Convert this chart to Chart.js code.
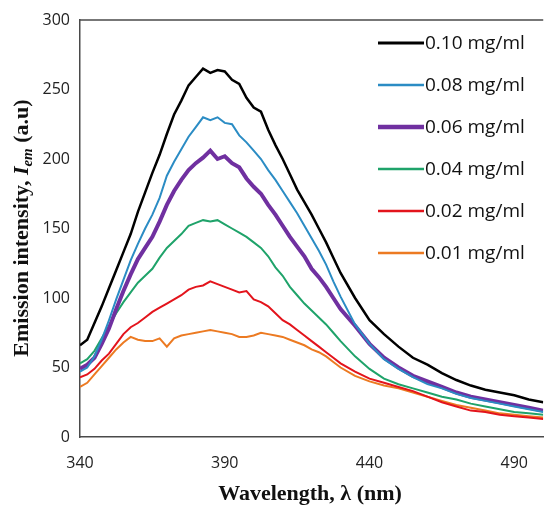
<!DOCTYPE html>
<html>
<head>
<meta charset="utf-8">
<script src="https://cdn.jsdelivr.net/npm/chart.js@4"></script>
<style>
  html, body { margin: 0; padding: 0; background: #fff; }
  #wrap { width: 545px; height: 505px; }
</style>
</head>
<body>
<div id="wrap"><canvas id="emChart" width="545" height="505"></canvas></div>
<script>
// wavelength (nm): every 2.5 nm up to 430, then every 5 nm
const wavelengths = [340,342.5,345,347.5,350,352.5,355,357.5,360,362.5,365,367.5,370,372.5,375,377.5,380,382.5,385,387.5,390,392.5,395,397.5,400,402.5,405,407.5,410,412.5,415,417.5,420,422.5,425,427.5,430,435,440,445,450,455,460,465,470,475,480,485,490,495,500];

const conc010 = [66,70,82,94,107,120,133,146,162,176,190,203,218,232,242,253,259,265,262,264,263,257,254,244,237,234,221,210,200,189,178,169,160,150,140,129,118,100,84,74,65,57,52,46,41,37,34,32,30,27,25];
const conc008 = [47,50,58,70,84,99,113,127,139,150,160,172,188,198,207,216,223,230,228,230,226,225,217,212,206,200,192,185,177,169,161,152,143,134,124,112,101,81,67,56,49,43,38,35,31,28,26,24,22,20,18];
const conc006 = [49,52,57,67,78,92,105,117,128,136,144,155,167,177,185,192,197,201,206,200,202,197,194,186,180,175,167,160,152,144,137,130,121,115,108,100,92,80,67,57,50,44,40,36,32,29,27,25,23,21,19];
const conc004 = [53,56,62,71,80,89,97,104,111,116,121,129,136,141,146,152,154,156,155,156,153,150,147,144,140,136,130,122,116,108,102,96,91,86,81,75,69,58,49,42,38,35,32,29,27,24,22,20,18,17,16];
const conc002 = [43,45,49,55,60,67,74,79,82,86,90,93,96,99,102,106,108,109,112,110,108,106,104,105,99,97,94,89,84,81,77,73,69,65,61,57,53,47,42,39,36,33,29,25,22,19,18,16,15,14,13];
const conc001 = [36,39,45,51,57,63,68,72,70,69,69,71,65,71,73,74,75,76,77,76,75,74,72,72,73,75,74,73,72,70,68,66,63,61,58,54,50,44,40,37,35,32,29,26,23,21,19,17,16,15,14];

const seriesLabels = ['0.10 mg/ml','0.08 mg/ml','0.06 mg/ml','0.04 mg/ml','0.02 mg/ml','0.01 mg/ml'];
const seriesColors = ['#000000','#2b8cc4','#7030a0','#1fa36a','#e3141c','#ec7a22'];
const seriesWidths = [2.5, 2, 4, 2, 2, 2];
const xTicks = [340, 390, 440, 490];

const allSeries = [conc010, conc008, conc006, conc004, conc002, conc001];

const datasets = allSeries.map((vals, i) => ({
    label: seriesLabels[i],
    data: wavelengths.map((w, j) => ({ x: w, y: vals[j] })),
    borderColor: seriesColors[i],
    borderWidth: seriesWidths[i],
    pointRadius: 0,
    tension: 0,
    fill: false
}));

// top frame line, legend inside the plot, axis titles
const decor = {
    id: 'decor',
    afterDraw(chart) {
        const ctx = chart.ctx;
        const a = chart.chartArea;
        ctx.save();

        ctx.strokeStyle = '#4a4a4a';
        ctx.lineWidth = 1.5;
        ctx.beginPath();
        ctx.moveTo(a.left, a.top);
        ctx.lineTo(a.right, a.top);
        ctx.stroke();

        // legend
        ctx.font = '19px "Open Sans", sans-serif';
        ctx.textBaseline = 'middle';
        ctx.textAlign = 'left';
        chart.data.datasets.forEach((ds, i) => {
            const y = 43 + i * 42;
            ctx.strokeStyle = ds.borderColor;
            ctx.lineWidth = ds.borderWidth + 0.5;
            ctx.beginPath();
            ctx.moveTo(378, y);
            ctx.lineTo(424, y);
            ctx.stroke();
            ctx.fillStyle = '#111';
            ctx.fillText(ds.label, 425, y + 1);
        });

        // x title
        ctx.fillStyle = '#111';
        ctx.textAlign = 'center';
        ctx.textBaseline = 'middle';
        ctx.font = 'bold 22px "Liberation Serif", serif';
        ctx.fillText('Wavelength, λ (nm)', 310, 494);

        // y title, rotated, italic I with subscript em
        ctx.translate(22, 228);
        ctx.rotate(-Math.PI / 2);
        const big = 'bold 22px "Liberation Serif", serif';
        const ital = 'italic bold 22px "Liberation Serif", serif';
        const sub = 'italic bold 15px "Liberation Serif", serif';
        const parts = [
            { t: 'Emission intensity, ', f: big, dy: 0 },
            { t: 'I', f: ital, dy: 0 },
            { t: 'em', f: sub, dy: 6 },
            { t: ' (a.u)', f: big, dy: 0 }
        ];
        let total = 0;
        parts.forEach(p => { ctx.font = p.f; p.w = ctx.measureText(p.t).width; total += p.w; });
        let x = -total / 2;
        ctx.textAlign = 'left';
        parts.forEach(p => {
            ctx.font = p.f;
            ctx.fillText(p.t, x, p.dy);
            x += p.w;
        });
        ctx.restore();
    }
};

new Chart(document.getElementById('emChart').getContext('2d'), {
    type: 'line',
    data: { datasets: datasets },
    options: {
        responsive: false,
        animation: false,
        layout: { padding: { top: 20, left: 20, right: 0, bottom: 0 } },
        plugins: {
            legend: { display: false },
            tooltip: { enabled: false }
        },
        scales: {
            x: {
                type: 'linear',
                min: 340,
                max: 500,
                grid: { display: false, drawTicks: false },
                border: { display: true, color: '#4a4a4a', width: 1.5 },
                afterBuildTicks: (scale) => { scale.ticks = xTicks.map(v => ({ value: v })); },
                afterFit: (scale) => { scale.height = 68; },
                ticks: {
                    color: '#222',
                    font: { family: '"Open Sans", sans-serif', size: 16 },
                    padding: 17,
                    maxRotation: 0
                }
            },
            y: {
                min: 0,
                max: 300,
                grid: { display: false, drawTicks: false },
                border: { display: true, color: '#4a4a4a', width: 1.5 },
                afterFit: (scale) => { scale.width = 60; },
                ticks: {
                    stepSize: 50,
                    color: '#222',
                    font: { family: '"Open Sans", sans-serif', size: 16 },
                    padding: 10
                }
            }
        }
    },
    plugins: [decor]
});
</script>
</body>
</html>
